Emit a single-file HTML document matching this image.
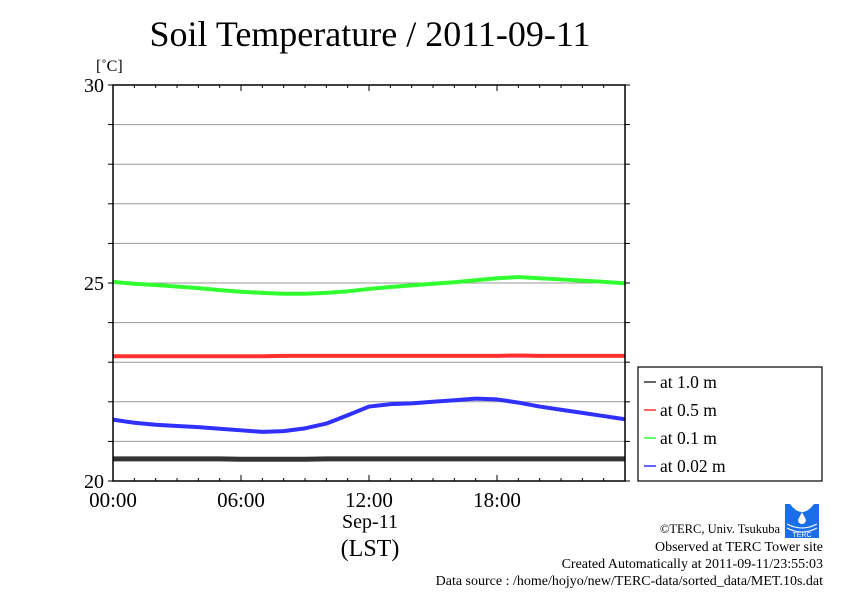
<!DOCTYPE html>
<html><head><meta charset="utf-8"><style>
body{margin:0;background:#fff;}
svg{display:block;font-family:"Liberation Serif",serif;}
</style></head><body>
<svg id="c" width="842" height="595" viewBox="0 0 842 595">
<text x="370" y="46" font-size="36" text-anchor="middle">Soil Temperature / 2011-09-11</text>
<text x="96" y="71" font-size="16">[˚C]</text>
<g id="grid"></g>
<g id="series"></g>
<rect x="113" y="85" width="512" height="396" fill="none" stroke="#000" stroke-width="1.5"/>
<g id="axes"></g>
<text x="370" y="528" font-size="20" text-anchor="middle">Sep-11</text>
<text x="370" y="556" font-size="24" text-anchor="middle">(LST)</text>
<g>
<rect x="638" y="367" width="184" height="114" fill="#fff" stroke="#000" stroke-width="1.2"/>
<g id="legend"></g>
</g>
<g>
<rect x="785" y="504" width="34" height="34" fill="#1a6ee8"/>
<path d="M790 504 Q802 520 814 504 Z" fill="#fff"/>
<path d="M802 512 L806 520 A4 4 0 1 1 798 520 Z" fill="#fff"/>
<path d="M787 524 Q802 532 817 524 M787 528 Q802 536 817 528" stroke="#fff" fill="none" stroke-width="1"/>
<text x="802" y="537" font-size="7" fill="#fff" text-anchor="middle" font-family="Liberation Sans,sans-serif">TERC</text>
</g>
<g font-size="14" text-anchor="end">
<text x="780" y="533" font-size="12.5">©TERC, Univ. Tsukuba</text>
<text x="823" y="551">Observed at TERC Tower site</text>
<text x="823" y="568">Created Automatically at 2011-09-11/23:55:03</text>
<text x="823" y="585">Data source : /home/hojyo/new/TERC-data/sorted_data/MET.10s.dat</text>
</g>
</svg>
<script>
const hours=[0,1,2,3,4,5,6,7,8,9,10,11,12,13,14,15,16,17,18,19,20,21,22,23,24];
const d100=[20.56,20.56,20.56,20.56,20.56,20.56,20.55,20.55,20.55,20.55,20.56,20.56,20.56,20.56,20.56,20.56,20.56,20.56,20.56,20.56,20.56,20.56,20.56,20.56,20.56];
const d050=[23.15,23.15,23.15,23.15,23.15,23.15,23.15,23.15,23.16,23.16,23.16,23.16,23.16,23.16,23.16,23.16,23.16,23.16,23.16,23.17,23.16,23.16,23.16,23.16,23.16];
const d010=[25.03,24.98,24.95,24.91,24.87,24.82,24.78,24.75,24.73,24.73,24.75,24.79,24.85,24.9,24.94,24.98,25.02,25.07,25.12,25.15,25.12,25.09,25.06,25.03,24.99];
const d002=[21.55,21.47,21.42,21.39,21.36,21.32,21.28,21.24,21.26,21.33,21.45,21.66,21.88,21.94,21.96,22.0,22.04,22.08,22.06,21.98,21.88,21.8,21.72,21.64,21.56];
const yTicks=[20,25,30];
const xLabels=["00:00","06:00","12:00","18:00"];
const series=[{n:"at 1.0 m",c:"#333",d:d100},{n:"at 0.5 m",c:"#ff3030",d:d050},{n:"at 0.1 m",c:"#30ff30",d:d010},{n:"at 0.02 m",c:"#3030ff",d:d002}];
const NS="http://www.w3.org/2000/svg";
const X=h=>113+h*512/24, Y=v=>481-(v-20)*396/10;
function mk(t,a,p){const e=document.createElementNS(NS,t);for(const k in a)e.setAttribute(k,a[k]);p.appendChild(e);return e;}
const grid=document.getElementById('grid'),axes=document.getElementById('axes'),ser=document.getElementById('series'),leg=document.getElementById('legend');
for(let v=21;v<30;v++){const l=mk('line',{x1:113,x2:625,y1:Y(v),y2:Y(v),stroke:'#999','stroke-width':1},grid);

}
for(let v=20;v<=30;v++){mk('line',{x1:108,x2:113,y1:Y(v),y2:Y(v),stroke:'#000'},axes);mk('line',{x1:625,x2:630,y1:Y(v),y2:Y(v),stroke:'#000'},axes);}
yTicks.forEach(v=>{const t=mk('text',{x:104,y:Y(v)+7,'font-size':20,'text-anchor':'end'},axes);t.textContent=v;

});
for(let h=0;h<=24;h++){const L=h%6==0?6:3;mk('line',{x1:X(h),x2:X(h),y1:85,y2:85+L,stroke:'#000'},axes);mk('line',{x1:X(h),x2:X(h),y1:481,y2:481-L,stroke:'#000'},axes);}
xLabels.forEach((s,i)=>{const t=mk('text',{x:X(i*6),y:507,'font-size':21,'text-anchor':'middle'},axes);t.textContent=s;

});
series.forEach((s,i)=>{const p=mk('polyline',{points:hours.map((h,j)=>X(h)+','+Y(s.d[j])).join(' '),fill:'none',stroke:s.c,'stroke-width':i==0?5:4,'stroke-linejoin':'round'},ser);


const y=382+i*28;mk('line',{x1:644,x2:656,y1:y,y2:y,stroke:s.c,'stroke-width':1.5},leg);
const t=mk('text',{x:660,y:y+6,'font-size':17.5},leg);t.textContent=s.n;

});
</script>
</body></html>
